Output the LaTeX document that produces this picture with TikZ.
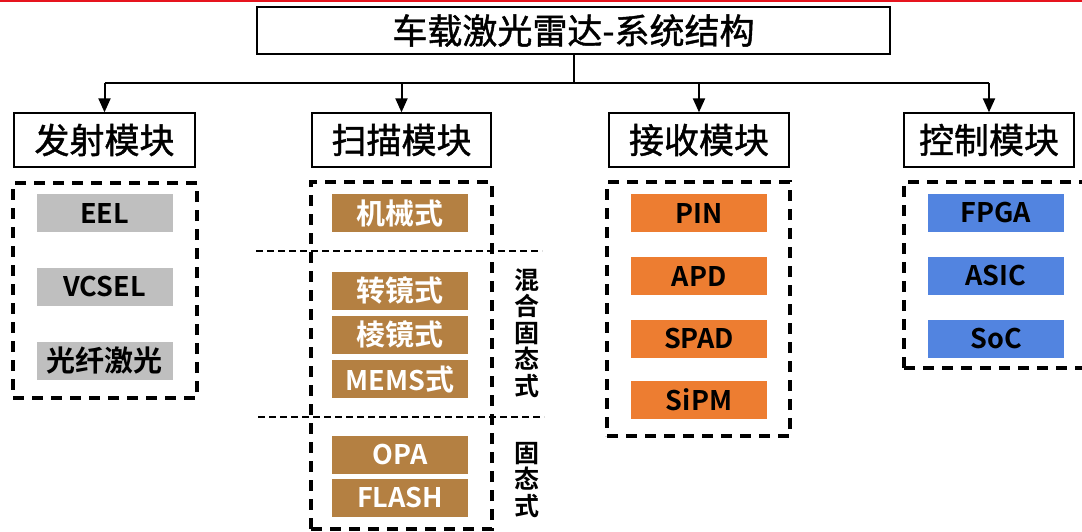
\documentclass[tikz,border=0pt]{standalone}
\usepackage{fontspec}
\setmainfont{Noto Sans CJK SC}[BoldFont={Noto Sans CJK SC Bold}]
\newfontfamily\hdrfont{Noto Sans CJK SC}[FakeBold=1.2]
\usetikzlibrary{arrows.meta}
\definecolor{gbox}{RGB}{191,191,191}
\definecolor{bbox}{RGB}{180,128,66}
\definecolor{obox}{RGB}{237,125,49}
\definecolor{lbox}{RGB}{82,132,224}
\definecolor{topred}{RGB}{230,20,30}
\newcommand{\zh}[1]{{\fontsize{29}{30}\selectfont #1}}
\begin{document}
\begin{tikzpicture}[x=1pt,y=-1pt,
  hdr/.style={draw=black,line width=1.3pt,fill=white,inner sep=0pt,font=\hdrfont\fontsize{35}{38}\selectfont},
  item/.style={minimum width=136pt,minimum height=38pt,inner sep=0pt,font=\fontsize{27}{30}\selectfont\bfseries},
  gitem/.style={item,fill=gbox,text=black},
  bitem/.style={item,fill=bbox,text=white},
  oitem/.style={item,fill=obox,text=black},
  litem/.style={item,fill=lbox,text=black},
  container/.style={draw=black,line width=3.4pt,dash pattern=on 11pt off 8pt,inner sep=0pt},
  sepline/.style={draw=black,line width=2.2pt,dash pattern=on 7pt off 4pt},
  conn/.style={line width=2pt},
  arr/.style={conn,-{Triangle[length=14pt,width=12pt]}},
  vlabel/.style={align=center,inner sep=0pt,font=\fontsize{25}{26.6}\selectfont\bfseries}
]
\useasboundingbox (0,0) rectangle (1082,532);
\fill[topred] (0,0) rectangle (1082,2);

% title
\node[hdr,minimum width=633pt,minimum height=47pt] (title) at (573.5,30.5) {车载激光雷达-系统结构};

% module headers
\node[hdr,minimum width=181pt,minimum height=54pt] (m1) at (104.5,140) {发射模块};
\node[hdr,minimum width=179pt,minimum height=54pt] (m2) at (401.5,140) {扫描模块};
\node[hdr,minimum width=180pt,minimum height=54pt] (m3) at (699,140) {接收模块};
\node[hdr,minimum width=170pt,minimum height=54pt] (m4) at (989,140) {控制模块};

% connectors
\coordinate (bus) at (573.5,83);
\draw[conn] (title.south) -- (bus);
\draw[conn] (m1.north |- bus) -- (m4.north |- bus);
\draw[arr] (m1.north |- bus) -- (m1.north);
\draw[arr] (m2.north |- bus) -- (m2.north);
\draw[arr] (m3.north |- bus) -- (m3.north);
\draw[arr] (m4.north |- bus) -- (m4.north);

% dashed containers
\node[container,minimum width=184pt,minimum height=215pt] (c1) at (105,290.5) {};
\node[container,minimum width=181pt,minimum height=347pt] (c2) at (401.5,355.5) {};
\node[container,minimum width=183pt,minimum height=254pt] (c3) at (698.5,309) {};
\node[container,minimum width=190pt,minimum height=186pt] (c4) at (999,275) {};

% emission items
\node[gitem] (e1) at (104.5,213) {EEL};
\node[gitem] (e2) at (104.5,287) {VCSEL};
\node[gitem] (e3) at (104.5,360.5) {\zh{光纤激光}};

% scanning items
\node[bitem] (s1) at (400,213) {\zh{机械式}};
\node[bitem] (s2) at (400,290.5) {\zh{转镜式}};
\node[bitem] (s3) at (400,334.5) {\zh{棱镜式}};
\node[bitem] (s4) at (400,379) {MEMS\zh{式}};
\node[bitem] (s5) at (400,454.5) {OPA};
\node[bitem] (s6) at (400,498) {FLASH};

% separators
\coordinate (sepA1) at (256,251);
\coordinate (sepA2) at (542,251);
\coordinate (sepB1) at (258,417);
\coordinate (sepB2) at (544,417);
\draw[sepline] (sepA1) -- (sepA2);
\draw[sepline] (sepB1) -- (sepB2);

\node[vlabel] (v1) at (527,333) {混\\合\\固\\态\\式};
\node[vlabel] (v2) at (527,480) {固\\态\\式};

% receiving items
\node[oitem] (r1) at (699,213) {PIN};
\node[oitem] (r2) at (699,276) {APD};
\node[oitem] (r3) at (699,339) {SPAD};
\node[oitem] (r4) at (699,400) {SiPM};

% control items
\node[litem] (k1) at (996,213) {FPGA};
\node[litem] (k2) at (996,276) {ASIC};
\node[litem] (k3) at (996,339) {SoC};
\end{tikzpicture}
\end{document}
